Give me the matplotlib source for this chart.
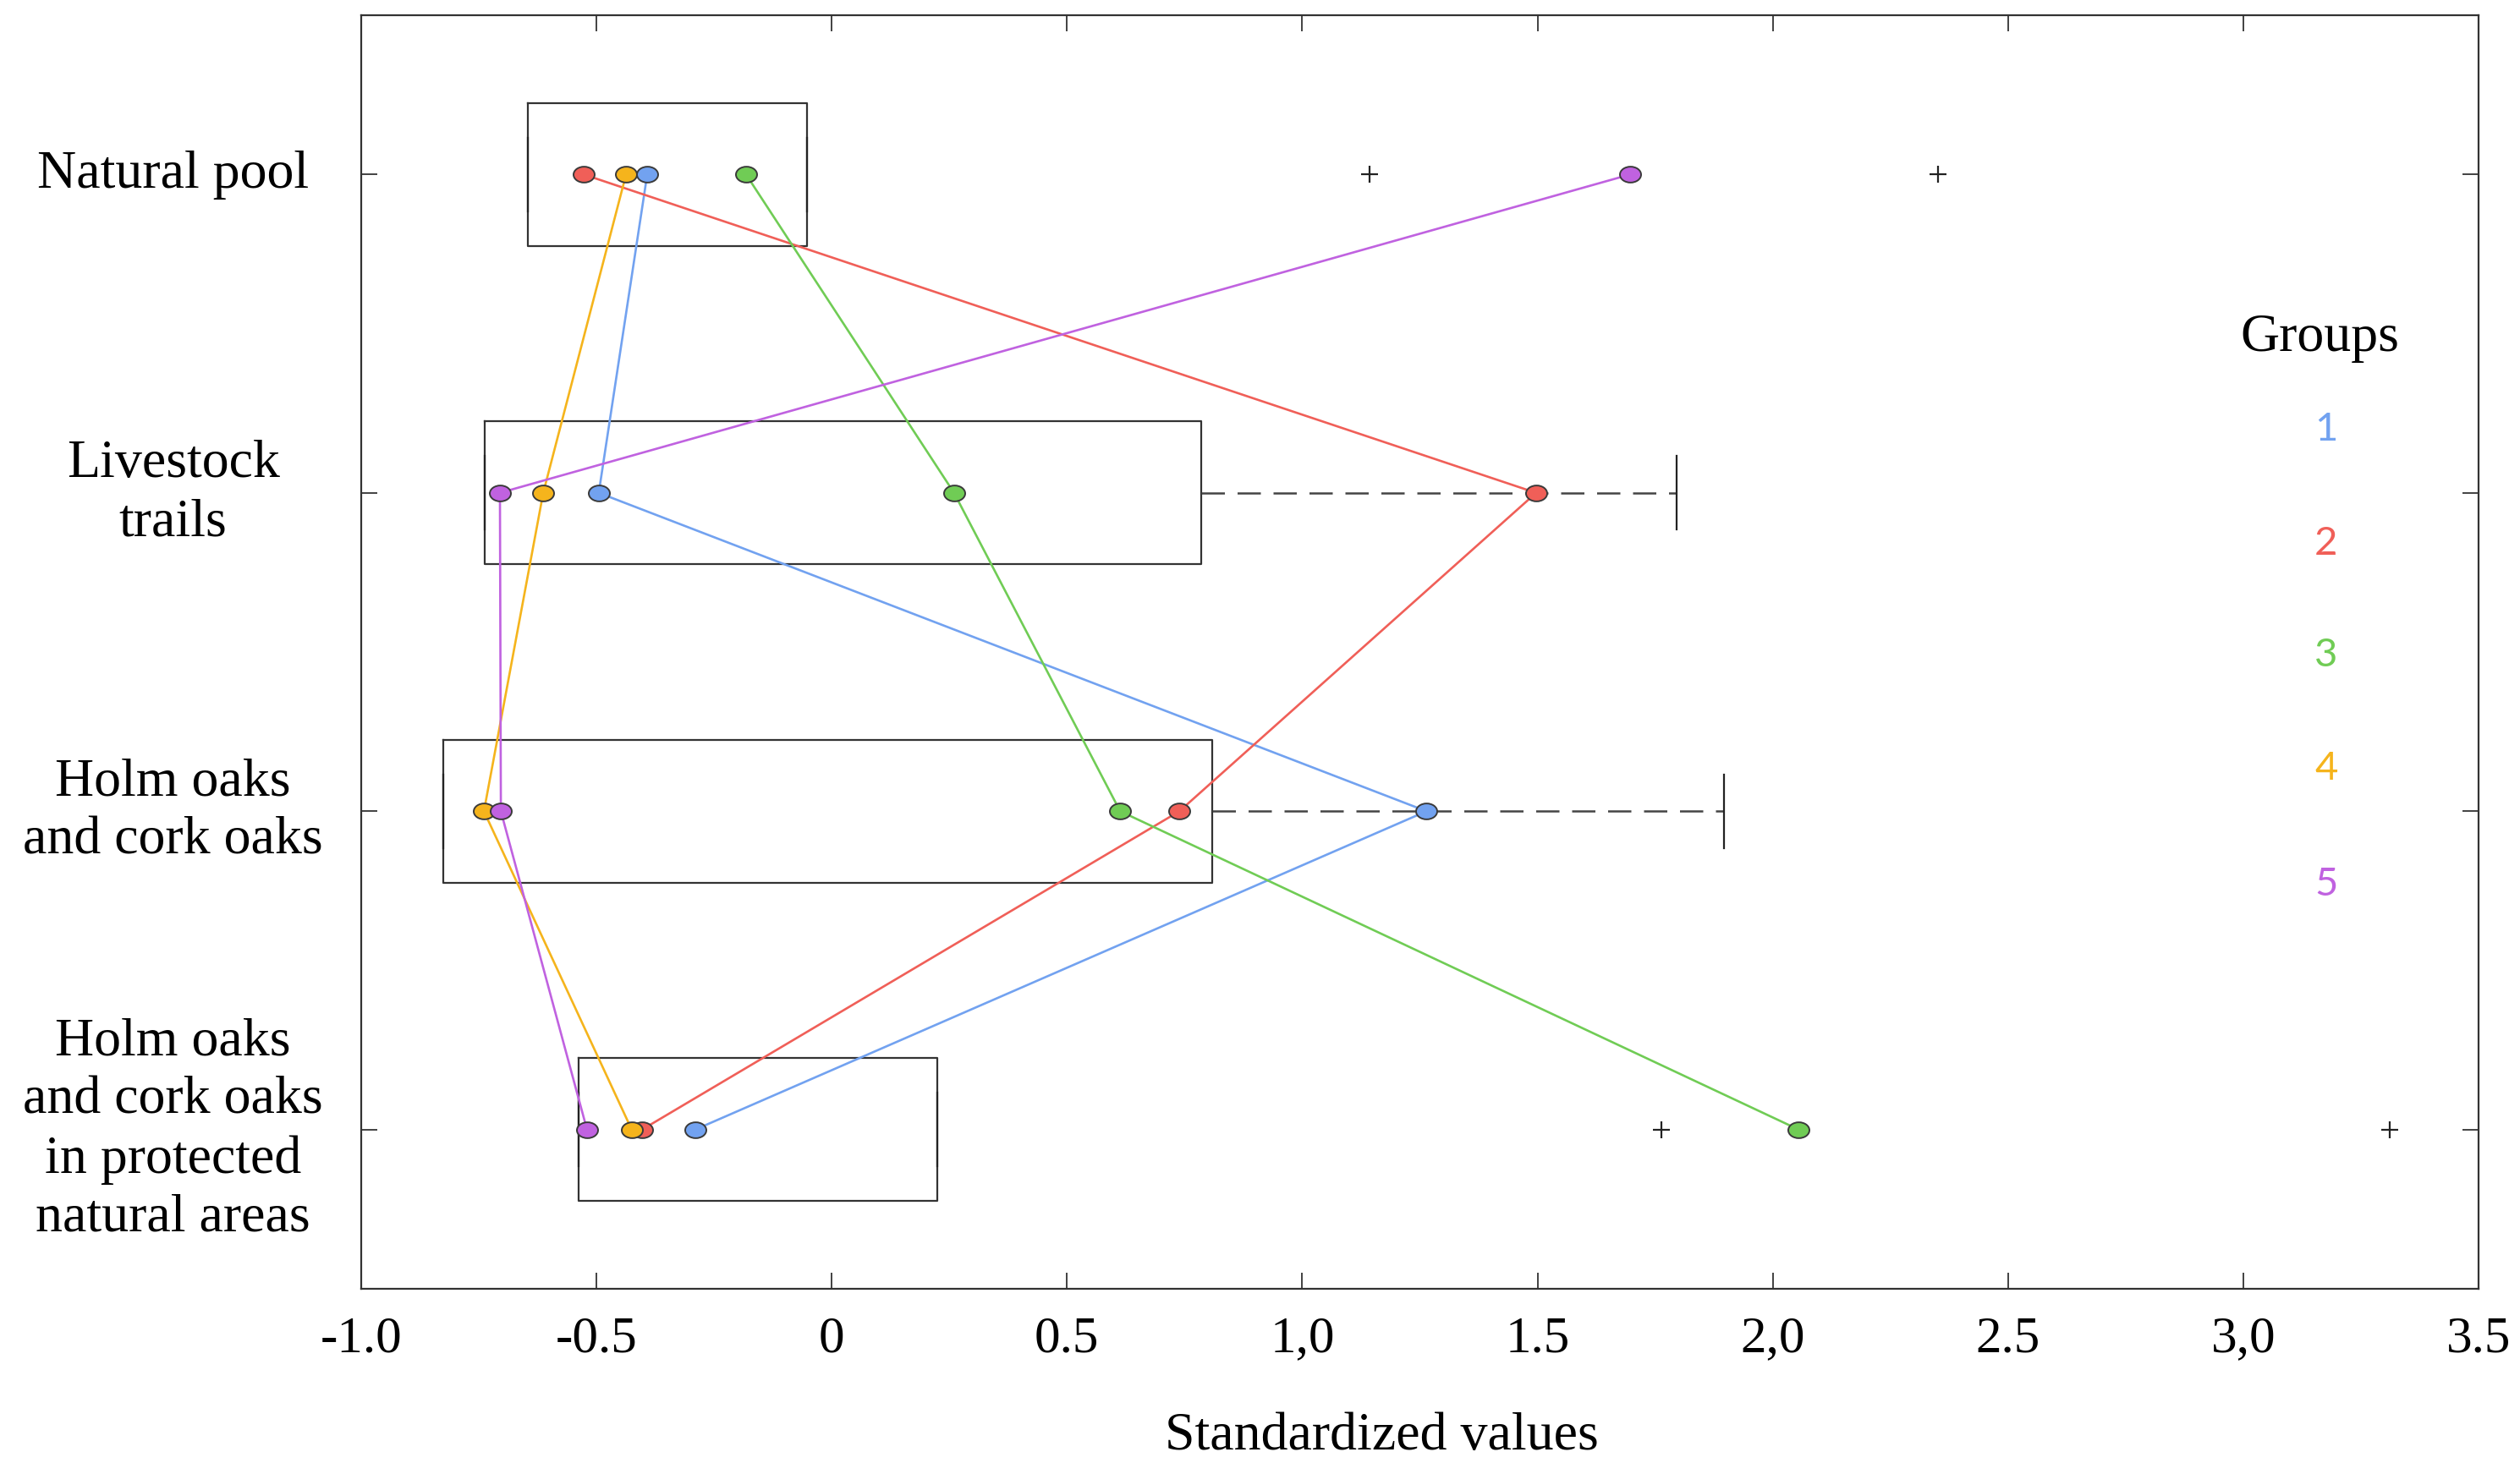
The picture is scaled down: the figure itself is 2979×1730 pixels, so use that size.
"""Standardized values per landscape feature: boxes + group profiles."""

import matplotlib

matplotlib.use("Agg")
import matplotlib.pyplot as plt  # noqa: E402
import numpy as np  # noqa: E402
from matplotlib.path import Path  # noqa: E402

# ---- data ----
categories = [
    "Natural pool",
    "Livestock\ntrails",
    "Holm oaks\nand cork oaks",
    "Holm oaks\nand cork oaks\nin protected\nnatural areas",
]
box_q1 = [-0.646, -0.738, -0.826, -0.538]
box_q3 = [-0.052, 0.785, 0.809, 0.224]
whisker_hi = [-0.052, 1.796, 1.897, 0.224]
outliers = [[1.143, 2.351], [], [], [1.763, 3.311]]

group_names = ["1", "2", "3", "4", "5"]
group_colors = ["#72a2f0", "#f05f58", "#70cc55", "#f5b41c", "#c062e0"]
group_values = {
    "1": [-0.392, -0.495, 1.264, -0.290],
    "2": [-0.527, 1.497, 0.739, -0.403],
    "3": [-0.182, 0.260, 0.613, 2.055],
    "4": [-0.437, -0.613, -0.739, -0.425],
    "5": [1.697, -0.705, -0.703, -0.520],
}

xticks = [-1.0, -0.5, 0.0, 0.5, 1.0, 1.5, 2.0, 2.5, 3.0, 3.5]
xtick_labels = ["-1.0", "-0.5", "0", "0.5", "1,0", "1.5", "2,0", "2.5", "3,0", "3.5"]

SERIF = "Liberation Serif"
SANS = "Lato"

fig = plt.figure(figsize=(29.79, 17.31), dpi=100)
ax = fig.add_axes([0.1433, 0.119, 0.8403, 0.870])

ypos = np.arange(len(categories))

# boxes (no medians shown)
stats = []
for i in range(len(categories)):
    stats.append({
        "q1": box_q1[i], "q3": box_q3[i], "med": box_q1[i],
        "whislo": box_q1[i], "whishi": whisker_hi[i],
        "fliers": outliers[i],
    })
ax.bxp(
    stats, positions=ypos, widths=0.45, orientation="horizontal",
    capwidths=0.23, showfliers=True,
    boxprops=dict(color="#333333", linewidth=1.6),
    whiskerprops=dict(color="#444444", linewidth=1.8, linestyle=(0, (11, 6))),
    capprops=dict(color="#222222", linewidth=1.6),
    medianprops=dict(visible=False),
    flierprops=dict(marker="+", markersize=14, markeredgecolor="#222222",
                    markeredgewidth=1.6),
)

# ellipse-shaped marker
circ = Path.unit_circle()
ellipse = Path(circ.vertices * np.array([1.0, 0.75]), circ.codes)

for name, col in zip(group_names, group_colors):
    ax.plot(group_values[name], ypos, color=col, linewidth=1.9, zorder=3)

draw_order = ["2", "4", "1", "3", "5"]
for name in draw_order:
    col = group_colors[group_names.index(name)]
    ax.plot(group_values[name], ypos, linestyle="none", marker=ellipse,
            markersize=18, markerfacecolor=col, markeredgecolor="#3a3a3a",
            markeredgewidth=1.4, zorder=4)

# axes styling
ax.set_xlim(-1.0, 3.5)
ax.set_ylim(3.5, -0.5)
ax.set_xticks(xticks)
ax.set_xticklabels(xtick_labels, fontfamily=SERIF, fontsize=44)
ax.set_yticks(ypos)
ax.set_yticklabels(categories, fontfamily=SERIF, fontsize=46,
                   ha="center", va="center", linespacing=1.25)
ax.tick_params(axis="x", direction="in", length=14, width=1.3,
               top=True, bottom=True, pad=22, colors="#333333",
               labelcolor="black")
ax.tick_params(axis="y", direction="in", length=14, width=1.3,
               left=True, right=True, pad=160, colors="#333333",
               labelcolor="black")
for sp in ax.spines.values():
    sp.set_linewidth(1.6)
    sp.set_color("#333333")

ax.set_xlabel("Standardized values", fontfamily=SERIF, fontsize=46)
ax.xaxis.set_label_coords(0.482, -0.096)

# group legend as plain text
ax.text(0.925, 0.747, "Groups", transform=ax.transAxes, ha="center",
        va="center", fontfamily=SERIF, fontsize=46)
legend_y = [0.675, 0.586, 0.498, 0.409, 0.318]
for name, col, ly in zip(group_names, group_colors, legend_y):
    ax.text(0.928, ly, name, transform=ax.transAxes, ha="center",
            va="center", fontfamily=SANS, fontsize=34, color=col)

fig.savefig("out.png", dpi=100)
